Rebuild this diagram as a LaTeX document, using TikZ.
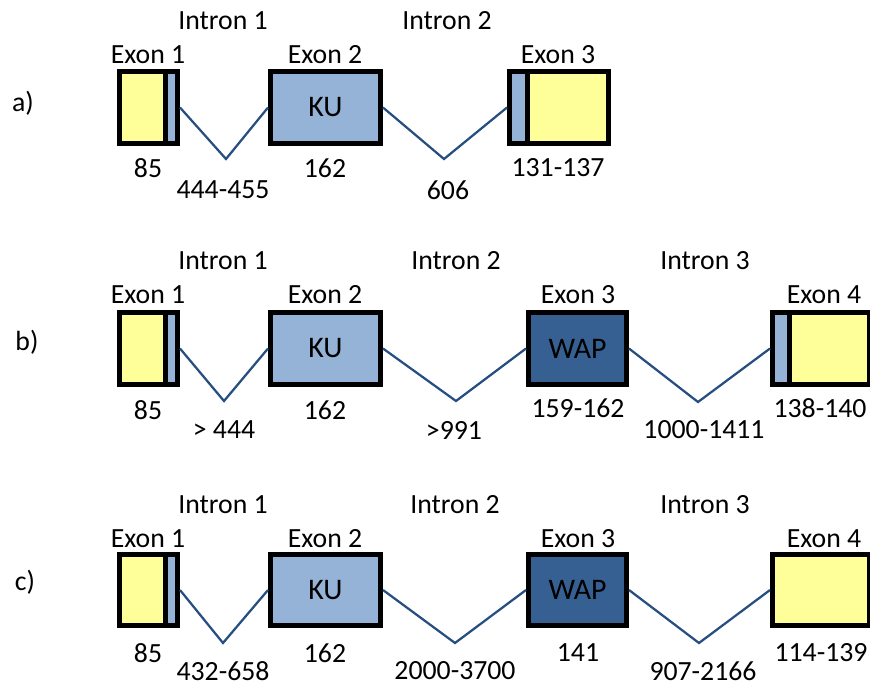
\documentclass[tikz,border=0pt]{standalone}
\usepackage{fontspec}
\setmainfont{Carlito}
\usetikzlibrary{positioning}

\definecolor{exonyellow}{RGB}{255,255,153}
\definecolor{exonblue}{RGB}{149,179,215}
\definecolor{wapblue}{RGB}{54,96,146}
\definecolor{intronblue}{RGB}{38,78,128}

\tikzset{
  exon/.style={draw, line width=0.1cm, inner sep=0pt, minimum height=1.44cm, font=\fontsize{17}{20}\selectfont},
  intron/.style={color=intronblue, line width=0.045cm},
  txt/.style={font=\fontsize{15.8}{19}\selectfont, inner sep=0pt},
}

\begin{document}
\begin{tikzpicture}[x=0.02cm, y=-0.02cm]
\useasboundingbox (0,0) rectangle (870,686);

%%% a)
\node[txt] (tagA) at (23,103) {a)};

%% exons
\node[exon, fill=exonyellow, minimum width=0.92cm] (exA1y) at (142.5,107.5) {};
\node[exon, fill=exonblue, minimum width=0.24cm] (exA1b) at (171.5,107.5) {};
\node[exon, fill=exonblue, minimum width=2.2cm] (exA2) at (325.5,107.5) {KU};
\node[exon, fill=exonblue, minimum width=0.36cm] (exA3b) at (518.5,107.5) {};
\node[exon, fill=exonyellow, minimum width=1.62cm] (exA3y) at (568,107.5) {};

%% introns
\coordinate (dipA1) at (226,159);
\coordinate (dipA2) at (444,159);
\draw[intron] (exA1b.east) -- (dipA1) -- (exA2.west);
\draw[intron] (exA2.east) -- (dipA2) -- (exA3b.west);

%% labels
\node[txt] (inA1) at (223,21) {Intron 1};
\node[txt] (inA2) at (447,21) {Intron 2};
\node[txt] (nmA1) at (148,55) {Exon 1};
\node[txt] (nmA2) at (325,55) {Exon 2};
\node[txt] (nmA3) at (558,55) {Exon 3};
\node[txt] (lnA1) at (148,168) {85};
\node[txt] (lnA2) at (325,168) {162};
\node[txt] (lnA3) at (558,168) {131-137};
\node[txt] (liA1) at (223,190) {444-455};
\node[txt] (liA2) at (448,190) {606};

%%% b)
\node[txt] (tagB) at (27,342) {b)};

%% exons
\node[exon, fill=exonyellow, minimum width=0.92cm] (exB1y) at (142.5,348.5) {};
\node[exon, fill=exonblue, minimum width=0.24cm] (exB1b) at (171.5,348.5) {};
\node[exon, fill=exonblue, minimum width=2.2cm] (exB2) at (325.5,348.5) {KU};
\node[exon, fill=wapblue, minimum width=1.96cm] (exB3) at (577.5,348.5) {WAP};
\node[exon, fill=exonblue, minimum width=0.34cm] (exB4b) at (781,348.5) {};
\node[exon, fill=exonyellow, minimum width=1.6cm] (exB4y) at (829.5,348.5) {};

%% introns
\coordinate (dipB1) at (224,401);
\coordinate (dipB2) at (456,401);
\coordinate (dipB3) at (698,402);
\draw[intron] (exB1b.east) -- (dipB1) -- (exB2.west);
\draw[intron] (exB2.east) -- (dipB2) -- (exB3.west);
\draw[intron] (exB3.east) -- (dipB3) -- (exB4b.west);

%% labels
\node[txt] (inB1) at (223,261) {Intron 1};
\node[txt] (inB2) at (456,261) {Intron 2};
\node[txt] (inB3) at (705,261) {Intron 3};
\node[txt] (nmB1) at (148,295) {Exon 1};
\node[txt] (nmB2) at (325,295) {Exon 2};
\node[txt] (nmB3) at (578,295) {Exon 3};
\node[txt] (nmB4) at (824,295) {Exon 4};
\node[txt] (lnB1) at (148,410) {85};
\node[txt] (lnB2) at (325,410) {162};
\node[txt] (lnB3) at (578,408) {159-162};
\node[txt] (lnB4) at (820,408) {138-140};
\node[txt] (liB1) at (224,430) {> 444};
\node[txt] (liB2) at (454,430) {>991};
\node[txt] (liB3) at (704,430) {1000-1411};

%%% c)
\node[txt] (tagC) at (25,582) {c)};

%% exons
\node[exon, fill=exonyellow, minimum width=0.92cm] (exC1y) at (142.5,590) {};
\node[exon, fill=exonblue, minimum width=0.24cm] (exC1b) at (171.5,590) {};
\node[exon, fill=exonblue, minimum width=2.2cm] (exC2) at (325.5,590) {KU};
\node[exon, fill=wapblue, minimum width=1.96cm] (exC3) at (577.5,590) {WAP};
\node[exon, fill=exonyellow, minimum width=1.94cm] (exC4) at (821,590) {};

%% introns
\coordinate (dipC1) at (223,643);
\coordinate (dipC2) at (455,643);
\coordinate (dipC3) at (699,643);
\draw[intron] (exC1b.east) -- (dipC1) -- (exC2.west);
\draw[intron] (exC2.east) -- (dipC2) -- (exC3.west);
\draw[intron] (exC3.east) -- (dipC3) -- (exC4.west);

%% labels
\node[txt] (inC1) at (223,505) {Intron 1};
\node[txt] (inC2) at (455,505) {Intron 2};
\node[txt] (inC3) at (705,505) {Intron 3};
\node[txt] (nmC1) at (148,539) {Exon 1};
\node[txt] (nmC2) at (325,539) {Exon 2};
\node[txt] (nmC3) at (578,539) {Exon 3};
\node[txt] (nmC4) at (824,539) {Exon 4};
\node[txt] (lnC1) at (148,653) {85};
\node[txt] (lnC2) at (325,653) {162};
\node[txt] (lnC3) at (578,653) {141};
\node[txt] (lnC4) at (821,653) {114-139};
\node[txt] (liC1) at (223,671) {432-658};
\node[txt] (liC2) at (455,671) {2000-3700};
\node[txt] (liC3) at (703,671) {907-2166};

\end{tikzpicture}
\end{document}
